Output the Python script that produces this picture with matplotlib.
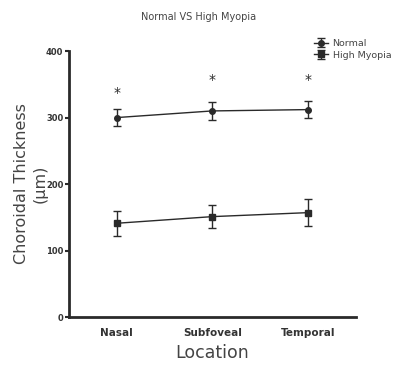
import numpy as np
import matplotlib.pyplot as plt

# Datos
locations = ['Nasal', 'Subfoveal', 'Temporal']
normal_mean = [300, 310, 312]
normal_err = [13, 13, 13]
myopia_mean = [141, 151, 157]
myopia_err = [19, 17, 20]
star_y = [337, 356, 356]

ink = '#2a2a2a'
x = np.arange(len(locations))

fig = plt.figure(figsize=(3.98, 3.65), dpi=100)
ax = fig.add_axes([0.173, 0.1315, 0.721, 0.7285])

ax.errorbar(x, normal_mean, yerr=normal_err, color=ink, marker='o', markersize=4,
            linewidth=1, elinewidth=1, capsize=3, capthick=1, label='Normal')
ax.errorbar(x, myopia_mean, yerr=myopia_err, color=ink, marker='s', markersize=4,
            linewidth=1, elinewidth=1, capsize=3, capthick=1, label='High Myopia')

for xi, yi in zip(x, star_y):
    ax.text(xi, yi, '*', ha='center', va='center', fontsize=10, color=ink)

ax.set_xlim(-0.5, 2.5)
ax.set_ylim(0, 400)
ax.set_yticks([0, 100, 200, 300, 400])
ax.set_xticks(x)
ax.set_xticklabels(locations, fontsize=7.5, fontweight='bold', color='#333333')
for lab in ax.get_yticklabels():
    lab.set_fontsize(6)
    lab.set_fontweight('bold')
    lab.set_color('#333333')
ax.tick_params(axis='y', length=3, width=1.5, pad=1, color=ink)
ax.tick_params(axis='x', length=0, pad=8)

for s in ['top', 'right']:
    ax.spines[s].set_visible(False)
for s in ['left', 'bottom']:
    ax.spines[s].set_linewidth(2)
    ax.spines[s].set_color(ink)

ax.set_ylabel('Choroidal Thickness\n(µm)', fontsize=11.5, color='#444444', labelpad=-1,
              linespacing=1.3)
ax.set_xlabel('Location', fontsize=12.5, color='#444444', labelpad=4)
fig.suptitle('Normal VS High Myopia', x=0.5, y=0.968, fontsize=7, color='#444444')

leg = ax.legend(loc='upper left', bbox_to_anchor=(0.84, 1.06), frameon=False,
                fontsize=6.8, handlelength=1.5, handletextpad=0.5, labelspacing=0.3,
                borderaxespad=0)
for t in leg.get_texts():
    t.set_color('#444444')

fig.savefig('out.png', dpi=100)
